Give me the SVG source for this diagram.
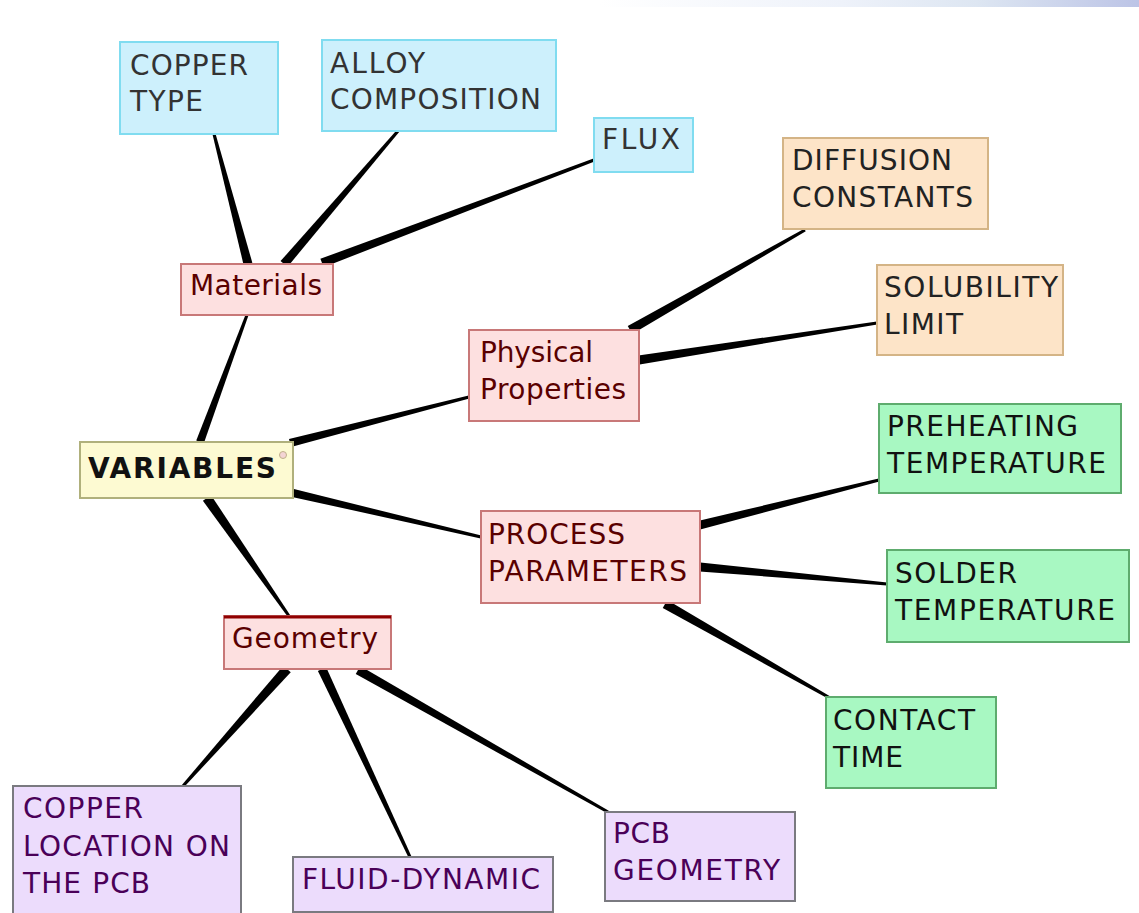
<svg xmlns="http://www.w3.org/2000/svg" width="1139" height="913" viewBox="0 0 1139 913">
<defs>
<linearGradient id="band" x1="0" y1="0" x2="1" y2="0">
<stop offset="0" stop-color="#ffffff"/>
<stop offset="0.45" stop-color="#eef2fa"/>
<stop offset="0.7" stop-color="#dde6f2"/>
<stop offset="1" stop-color="#bcc4e6"/>
</linearGradient>
</defs>
<style>
text{font-family:"DejaVu Sans","Liberation Sans",sans-serif;font-size:28px}
.cy rect{fill:#cdf0fc;stroke:#80dcf0;stroke-width:2}
.cy text{fill:#333}
.or rect{fill:#fde4c8;stroke:#d4b486;stroke-width:2}
.or text{fill:#222}
.pk rect{fill:#fde0e0;stroke:#c87878;stroke-width:2}
.pk text{fill:#5a0000}
.gr rect{fill:#a8f8c2;stroke:#5eac6e;stroke-width:2}
.gr text{fill:#111}
.pu rect{fill:#ecdcfc;stroke:#7a7a80;stroke-width:2}
.pu text{fill:#4a0058}
.root rect{fill:#fdfad2;stroke:#b0b07c;stroke-width:2}
.root text{fill:#111;font-weight:bold}
#connectors polygon{fill:#000}
</style>
<rect x="600" y="0" width="539" height="7" fill="url(#band)"/>
<g id="connectors">
<polygon points="252.35,262.86 215.45,133.62 212.55,134.38 243.65,265.14"/>
<polygon points="287.42,266.93 399.14,131.98 396.86,130.02 280.58,261.07"/>
<polygon points="323.59,267.21 594.53,161.40 593.47,158.60 320.41,258.79"/>
<polygon points="203.75,443.39 248.41,315.52 245.59,314.48 196.25,440.61"/>
<polygon points="291,446.88 469.37,398.45 468.63,395.55 289,439.12"/>
<polygon points="292.09,496.9 480.66,538.46 481.34,535.54 293.91,489.1"/>
<polygon points="202.9,500.85 287.77,616.86 290.23,615.14 211.1,495.15"/>
<polygon points="632.23,333.91 805.74,231.3 804.26,228.7 627.77,326.09"/>
<polygon points="639.69,364.45 877.23,324.48 876.77,321.52 638.31,355.55"/>
<polygon points="701.1,529.36 879.37,481.45 878.63,478.55 698.9,520.64"/>
<polygon points="699.59,571.48 886.86,585.49 887.14,582.51 700.41,562.52"/>
<polygon points="662.77,607.91 829.26,699.3 830.74,696.7 667.23,600.09"/>
<polygon points="283.26,665.68 181.88,785 184.12,787 290.74,672.32"/>
<polygon points="317.92,670.91 408.64,857.64 411.36,856.36 326.08,667.09"/>
<polygon points="355.78,673.91 607.26,813.3 608.74,810.7 360.22,666.09"/>
</g>
<g id="copper-type" class="cy">
<rect x="120" y="42" width="158" height="92"/>
<text x="130" y="75" textLength="118">COPPER</text>
<text x="130" y="111" textLength="73">TYPE</text>
</g>
<g id="alloy-composition" class="cy">
<rect x="322" y="40" width="234" height="91"/>
<text x="330" y="73" textLength="95">ALLOY</text>
<text x="330" y="109" textLength="211">COMPOSITION</text>
</g>
<g id="flux" class="cy">
<rect x="594" y="118" width="99" height="54"/>
<text x="602" y="149" textLength="78">FLUX</text>
</g>
<g id="materials" class="pk">
<rect x="181" y="264" width="152" height="51"/>
<text x="190" y="295" textLength="132">Materials</text>
</g>
<g id="diffusion-constants" class="or">
<rect x="783" y="138" width="205" height="91"/>
<text x="792" y="170" textLength="160">DIFFUSION</text>
<text x="792" y="207" textLength="181">CONSTANTS</text>
</g>
<g id="solubility-limit" class="or">
<rect x="877" y="265" width="186" height="90"/>
<text x="884" y="297" textLength="174">SOLUBILITY</text>
<text x="884" y="334" textLength="79">LIMIT</text>
</g>
<g id="physical-properties" class="pk">
<rect x="469" y="330" width="170" height="91"/>
<text x="480" y="362" textLength="113">Physical</text>
<text x="480" y="399" textLength="146">Properties</text>
</g>
<g id="variables" class="root">
<rect x="80" y="442" width="213" height="56"/>
<text x="88" y="478" textLength="188">VARIABLES</text>
<circle cx="283" cy="455" r="3.5" fill="#f4d4d4" stroke="#c0b08a" stroke-width="1"/>
</g>
<g id="preheating-temperature" class="gr">
<rect x="879" y="404" width="242" height="89"/>
<text x="887" y="436" textLength="191">PREHEATING</text>
<text x="887" y="473" textLength="219">TEMPERATURE</text>
</g>
<g id="process-parameters" class="pk">
<rect x="481" y="511" width="219" height="92"/>
<text x="488" y="544" textLength="137">PROCESS</text>
<text x="488" y="581" textLength="199">PARAMETERS</text>
</g>
<g id="solder-temperature" class="gr">
<rect x="887" y="550" width="242" height="92"/>
<text x="895" y="583" textLength="122">SOLDER</text>
<text x="895" y="620" textLength="220">TEMPERATURE</text>
</g>
<g id="contact-time" class="gr">
<rect x="826" y="697" width="170" height="91"/>
<text x="833" y="730" textLength="142">CONTACT</text>
<text x="833" y="767" textLength="70">TIME</text>
</g>
<g id="geometry" class="pk">
<rect x="224" y="616" width="167" height="53"/>
<line x1="224" y1="617" x2="391" y2="617" stroke="#900000" stroke-width="3"/>
<text x="232" y="648" textLength="146">Geometry</text>
</g>
<g id="copper-location" class="pu">
<rect x="13" y="786" width="228" height="135"/>
<text x="23" y="818" textLength="120">COPPER</text>
<text x="23" y="856" textLength="207">LOCATION ON</text>
<text x="23" y="893" textLength="127">THE PCB</text>
</g>
<g id="fluid-dynamic" class="pu">
<rect x="293" y="857" width="260" height="55"/>
<text x="302" y="889" textLength="238">FLUID-DYNAMIC</text>
</g>
<g id="pcb-geometry" class="pu">
<rect x="605" y="812" width="190" height="89"/>
<text x="613" y="843" textLength="57">PCB</text>
<text x="613" y="880" textLength="167">GEOMETRY</text>
</g>
</svg>
